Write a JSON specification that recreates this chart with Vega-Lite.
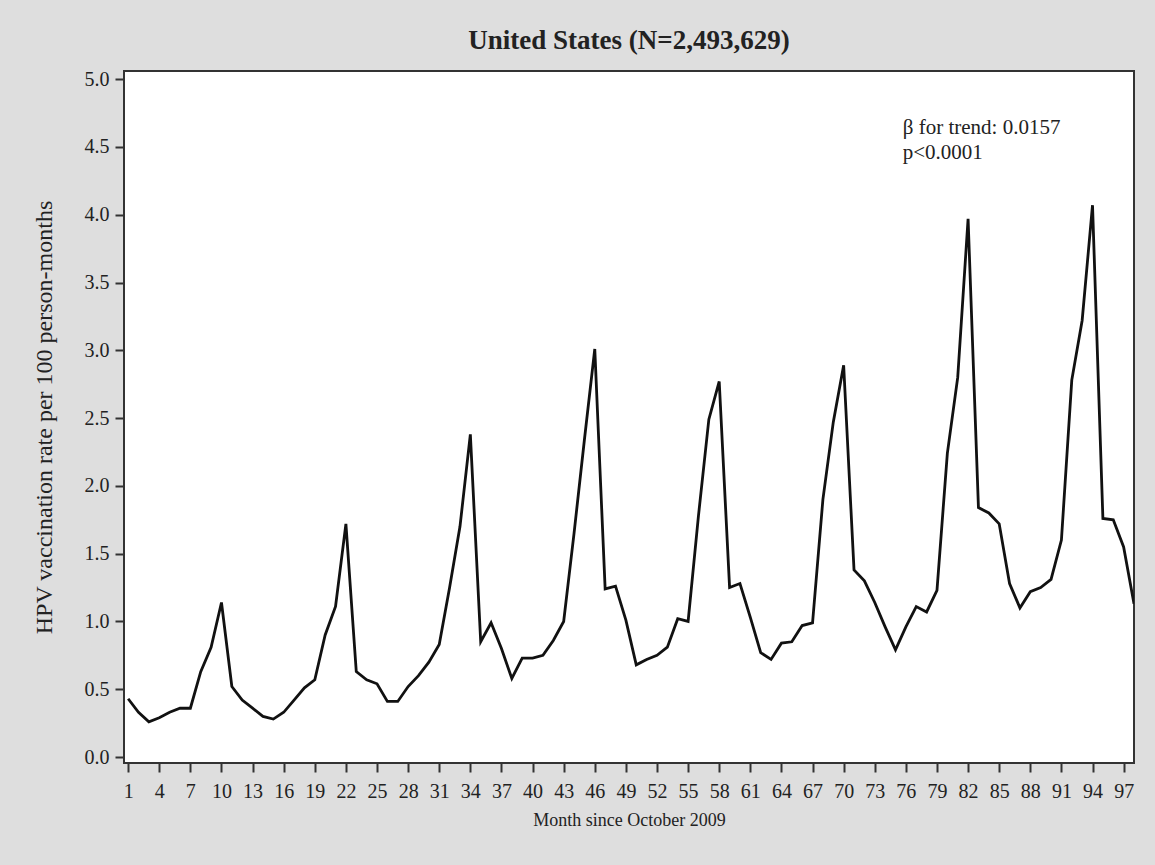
{
  "$schema": "https://vega.github.io/schema/vega-lite/v6.json",
  "autosize": "none",
  "width": 1010,
  "height": 692,
  "padding": {"left": 124, "top": 71, "right": 21, "bottom": 102},
  "background": "#dedede",
  "title": {
    "text": "United States (N=2,493,629)",
    "font": "Liberation Serif",
    "fontSize": 27,
    "fontWeight": "bold",
    "color": "#222222",
    "anchor": "middle",
    "offset": 14
  },
  "config": {
    "view": {"fill": "white", "stroke": "#333333", "strokeWidth": 2},
    "axis": {
      "labelFont": "Liberation Serif",
      "titleFont": "Liberation Serif",
      "labelFontSize": 20,
      "titleFontSize": 18,
      "titleFontWeight": "normal",
      "labelColor": "#222222",
      "titleColor": "#222222",
      "tickColor": "#333333",
      "tickWidth": 2,
      "tickSize": 9,
      "domain": false,
      "grid": false
    }
  },
  "layer": [
    {
      "data": {
        "values": [
          {"month": 1, "rate": 0.43}, {"month": 2, "rate": 0.33}, {"month": 3, "rate": 0.26},
          {"month": 4, "rate": 0.29}, {"month": 5, "rate": 0.33}, {"month": 6, "rate": 0.36},
          {"month": 7, "rate": 0.36}, {"month": 8, "rate": 0.63}, {"month": 9, "rate": 0.81},
          {"month": 10, "rate": 1.14}, {"month": 11, "rate": 0.52}, {"month": 12, "rate": 0.42},
          {"month": 13, "rate": 0.36}, {"month": 14, "rate": 0.30}, {"month": 15, "rate": 0.28},
          {"month": 16, "rate": 0.33}, {"month": 17, "rate": 0.42}, {"month": 18, "rate": 0.51},
          {"month": 19, "rate": 0.57}, {"month": 20, "rate": 0.90}, {"month": 21, "rate": 1.11},
          {"month": 22, "rate": 1.72}, {"month": 23, "rate": 0.63}, {"month": 24, "rate": 0.57},
          {"month": 25, "rate": 0.54}, {"month": 26, "rate": 0.41}, {"month": 27, "rate": 0.41},
          {"month": 28, "rate": 0.52}, {"month": 29, "rate": 0.60}, {"month": 30, "rate": 0.70},
          {"month": 31, "rate": 0.83}, {"month": 32, "rate": 1.25}, {"month": 33, "rate": 1.70},
          {"month": 34, "rate": 2.38}, {"month": 35, "rate": 0.85}, {"month": 36, "rate": 0.99},
          {"month": 37, "rate": 0.80}, {"month": 38, "rate": 0.58}, {"month": 39, "rate": 0.73},
          {"month": 40, "rate": 0.73}, {"month": 41, "rate": 0.75}, {"month": 42, "rate": 0.86},
          {"month": 43, "rate": 1.00}, {"month": 44, "rate": 1.65}, {"month": 45, "rate": 2.34},
          {"month": 46, "rate": 3.01}, {"month": 47, "rate": 1.24}, {"month": 48, "rate": 1.26},
          {"month": 49, "rate": 1.01}, {"month": 50, "rate": 0.68}, {"month": 51, "rate": 0.72},
          {"month": 52, "rate": 0.75}, {"month": 53, "rate": 0.81}, {"month": 54, "rate": 1.02},
          {"month": 55, "rate": 1.00}, {"month": 56, "rate": 1.78}, {"month": 57, "rate": 2.49},
          {"month": 58, "rate": 2.77}, {"month": 59, "rate": 1.25}, {"month": 60, "rate": 1.28},
          {"month": 61, "rate": 1.03}, {"month": 62, "rate": 0.77}, {"month": 63, "rate": 0.72},
          {"month": 64, "rate": 0.84}, {"month": 65, "rate": 0.85}, {"month": 66, "rate": 0.97},
          {"month": 67, "rate": 0.99}, {"month": 68, "rate": 1.90}, {"month": 69, "rate": 2.47},
          {"month": 70, "rate": 2.89}, {"month": 71, "rate": 1.38}, {"month": 72, "rate": 1.30},
          {"month": 73, "rate": 1.14}, {"month": 74, "rate": 0.96}, {"month": 75, "rate": 0.79},
          {"month": 76, "rate": 0.96}, {"month": 77, "rate": 1.11}, {"month": 78, "rate": 1.07},
          {"month": 79, "rate": 1.23}, {"month": 80, "rate": 2.24}, {"month": 81, "rate": 2.80},
          {"month": 82, "rate": 3.97}, {"month": 83, "rate": 1.84}, {"month": 84, "rate": 1.80},
          {"month": 85, "rate": 1.72}, {"month": 86, "rate": 1.28}, {"month": 87, "rate": 1.10},
          {"month": 88, "rate": 1.22}, {"month": 89, "rate": 1.25}, {"month": 90, "rate": 1.31},
          {"month": 91, "rate": 1.60}, {"month": 92, "rate": 2.78}, {"month": 93, "rate": 3.22},
          {"month": 94, "rate": 4.07}, {"month": 95, "rate": 1.76}, {"month": 96, "rate": 1.75},
          {"month": 97, "rate": 1.55}, {"month": 98, "rate": 1.13}
        ]
      },
      "mark": {"type": "line", "color": "#111111", "strokeWidth": 2.8, "clip": true},
      "encoding": {
        "x": {
          "field": "month",
          "type": "quantitative",
          "scale": {"domain": [0.6, 98], "nice": false, "zero": false},
          "axis": {
            "title": "Month since October 2009",
            "values": [1, 4, 7, 10, 13, 16, 19, 22, 25, 28, 31, 34, 37, 40, 43, 46, 49, 52, 55, 58, 61, 64, 67, 70, 73, 76, 79, 82, 85, 88, 91, 94, 97],
            "tickCount": 40,
            "labelPadding": 9,
            "titlePadding": 10,
            "labelFlush": false,
            "labelOverlap": false
          }
        },
        "y": {
          "field": "rate",
          "type": "quantitative",
          "scale": {"domain": [-0.044, 5.06], "nice": false, "zero": false},
          "axis": {
            "title": "HPV vaccination rate per 100 person-months",
            "titleFontSize": 24,
            "values": [0, 0.5, 1, 1.5, 2, 2.5, 3, 3.5, 4, 4.5, 5],
            "tickCount": 20,
            "format": ".1f",
            "labelPadding": 6,
            "titlePadding": 28,
            "labelFlush": false,
            "labelOverlap": false
          }
        }
      }
    },
    {
      "data": {"values": [{}]},
      "mark": {"type": "text", "font": "Liberation Serif", "fontSize": 21, "align": "left", "baseline": "middle", "color": "#222222", "lineHeight": 25},
      "encoding": {
        "x": {"datum": 75.7},
        "y": {"datum": 4.64},
        "text": {"value": ["β for trend: 0.0157", "\u00a0p<0.0001"]}
      }
    }
  ]
}
